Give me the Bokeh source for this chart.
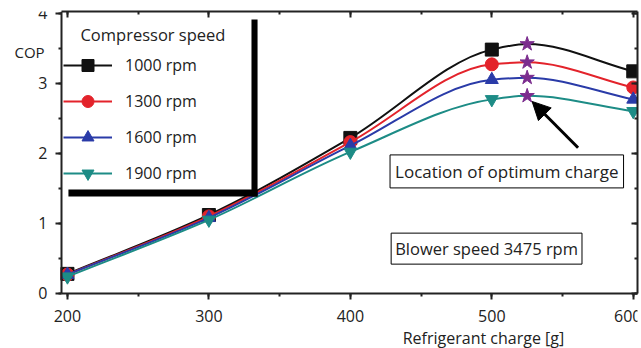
import numpy as np
from bokeh.plotting import figure
from bokeh.models import (Range1d, LinearAxis, Legend, LegendItem, Label, BoxAnnotation,
                          Arrow, NormalHead, ColumnDataSource, SingleIntervalTicker)
from bokeh.embed import file_html
from bokeh.resources import INLINE

# ---- data ----
charge = [200, 300, 400, 500, 600]
series_names = ["1000 rpm", "1300 rpm", "1600 rpm", "1900 rpm"]
cop_1000 = [0.28, 1.12, 2.22, 3.48, 3.17]
cop_1300 = [0.27, 1.10, 2.16, 3.27, 2.94]
cop_1600 = [0.27, 1.08, 2.11, 3.05, 2.77]
cop_1900 = [0.24, 1.05, 2.02, 2.77, 2.60]
opt_charge = 525
opt_cop = [3.56, 3.30, 3.08, 2.82]

colors = ["#111111", "#e3232b", "#2a3ba8", "#1d8c86"]
markers = ["square", "circle", "triangle", "inverted_triangle"]
star_color = "#7b2c8e"
FONT = "Open Sans"
W, H = 641, 348

X0, X1 = 195.8, 603.0      # visible axis extent
Y0, Y1 = -0.007, 4.024

p = figure(width=W, height=H, output_backend="svg", toolbar_location=None,
           x_range=Range1d(152.67, X1), y_range=Range1d(-0.785, Y1),
           min_border_left=0, min_border_right=4, min_border_top=11, min_border_bottom=0)
p.grid.visible = False
p.outline_line_color = None
p.background_fill_color = "white"

def style_axis(ax, inward=False):
    ax.axis_line_width = 2
    ax.axis_line_color = "#222222"
    ax.major_tick_line_width = 2
    ax.minor_tick_line_width = 2
    ax.major_tick_line_color = "#222222"
    ax.minor_tick_line_color = "#222222"
    if inward:
        ax.major_tick_in, ax.major_tick_out = 6, 0
        ax.minor_tick_in, ax.minor_tick_out = 3, 0
        ax.major_label_text_font_size = "1px"
        ax.major_label_text_color = None
        ax.major_label_standoff = 0
    else:
        ax.major_tick_in, ax.major_tick_out = 0, 6
        ax.minor_tick_in, ax.minor_tick_out = 0, 3
        ax.major_label_text_font = FONT
        ax.major_label_text_font_size = "16px"
        ax.major_label_text_color = "#222222"

xaxis, yaxis = p.xaxis[0], p.yaxis[0]
xaxis.ticker = SingleIntervalTicker(interval=100, num_minor_ticks=2)
yaxis.ticker = SingleIntervalTicker(interval=1, num_minor_ticks=2)
style_axis(xaxis); style_axis(yaxis)
xaxis.fixed_location = Y0
yaxis.fixed_location = X0
xaxis.bounds = (X0, X1)
yaxis.bounds = (Y0, Y1)
xaxis.major_label_standoff = 10
yaxis.major_label_standoff = 8

top_ax = LinearAxis(ticker=SingleIntervalTicker(interval=100, num_minor_ticks=2), bounds=(X0, X1))
right_ax = LinearAxis(ticker=SingleIntervalTicker(interval=1, num_minor_ticks=2), bounds=(Y0, Y1))
style_axis(top_ax, True); style_axis(right_ax, True)
p.add_layout(top_ax, "above")
p.add_layout(right_ax, "right")

# legend background box and its heavy shadow
p.add_layout(BoxAnnotation(left=197.2, right=330.1, bottom=1.48, top=Y1,
                           fill_color="white", fill_alpha=1.0, line_color=None, level="underlay"))
p.add_layout(BoxAnnotation(left=330.1, right=334.4, bottom=1.384, top=3.91,
                           fill_color="black", fill_alpha=1.0, line_color=None))
p.add_layout(BoxAnnotation(left=200.7, right=334.4, bottom=1.384, top=1.484,
                           fill_color="black", fill_alpha=1.0, line_color=None))

def pchip_bezier(xs, ys):
    xs = np.asarray(xs, float); ys = np.asarray(ys, float)
    h = np.diff(xs); d = np.diff(ys) / h
    n = len(xs); m = np.zeros(n)
    for k in range(1, n - 1):
        if d[k - 1] * d[k] <= 0:
            m[k] = 0.0
        else:
            w1 = 2 * h[k] + h[k - 1]; w2 = h[k] + 2 * h[k - 1]
            m[k] = (w1 + w2) / (w1 / d[k - 1] + w2 / d[k])
    m[0] = d[0]; m[-1] = d[-1]
    return dict(x0=xs[:-1], y0=ys[:-1], x1=xs[1:], y1=ys[1:],
                cx0=xs[:-1] + h / 3, cy0=ys[:-1] + m[:-1] * h / 3,
                cx1=xs[1:] - h / 3, cy1=ys[1:] - m[1:] * h / 3)

all_cop = [cop_1000, cop_1300, cop_1600, cop_1900]
items = []
for name, cop, oc, col, mk in zip(series_names, all_cop, opt_cop, colors, markers):
    xs = charge[:4] + [opt_charge] + charge[4:]
    ys = cop[:4] + [oc] + cop[4:]
    src = ColumnDataSource(pchip_bezier(xs, ys))
    r_line = p.bezier(x0="x0", y0="y0", x1="x1", y1="y1", cx0="cx0", cy0="cy0",
                      cx1="cx1", cy1="cy1", source=src, line_color=col, line_width=2)
    r_mk = p.scatter(charge, cop, marker=mk, size=13, fill_color=col, line_color=col)
    items.append(LegendItem(label=name, renderers=[r_line, r_mk]))

p.scatter([opt_charge] * 4, opt_cop, marker="star", size=15,
          fill_color=star_color, line_color=star_color)

legend = Legend(items=items, location=(63, 160), padding=0, spacing=6,
                glyph_width=49, glyph_height=30, label_height=30, label_width=120,
                label_standoff=13, label_text_font=FONT, label_text_font_size="16px",
                label_text_color="#222222", background_fill_alpha=0,
                border_line_color=None, margin=0)
p.add_layout(legend)

p.add_layout(Label(x=209.2, y=3.70, text="Compressor speed", text_font=FONT,
                   text_font_size="16.5px", text_color="#222222", text_baseline="middle"))
p.add_layout(Label(x=173.2, y=3.439, text="COP", text_font=FONT, text_font_size="15px",
                   text_color="#222222", text_align="center", text_baseline="middle"))
p.add_layout(Label(x=494.1, y=-0.642, text="Refrigerant charge [g]", text_font=FONT,
                   text_font_size="16px", text_color="#222222", text_align="center",
                   text_baseline="middle"))

p.add_layout(Arrow(end=NormalHead(size=18, fill_color="black", line_color="black"),
                   x_start=561, y_start=2.08, x_end=528.5, y_end=2.74,
                   line_width=3, line_color="black"))

p.add_layout(Label(x=510.6, y=1.742, text="Location of optimum charge", text_font=FONT,
                   text_font_size="17px", text_color="#222222", text_align="center",
                   text_baseline="middle", border_line_color="black", border_line_width=1,
                   background_fill_color="white", padding=5))
p.add_layout(Label(x=496.3, y=0.64, text="Blower speed 3475 rpm", text_font=FONT,
                   text_font_size="16.5px", text_color="#222222", text_align="center",
                   text_baseline="middle", border_line_color="black", border_line_width=1,
                   background_fill_color="white", padding=4))

open("out.html", "w").write(file_html(p, INLINE))
